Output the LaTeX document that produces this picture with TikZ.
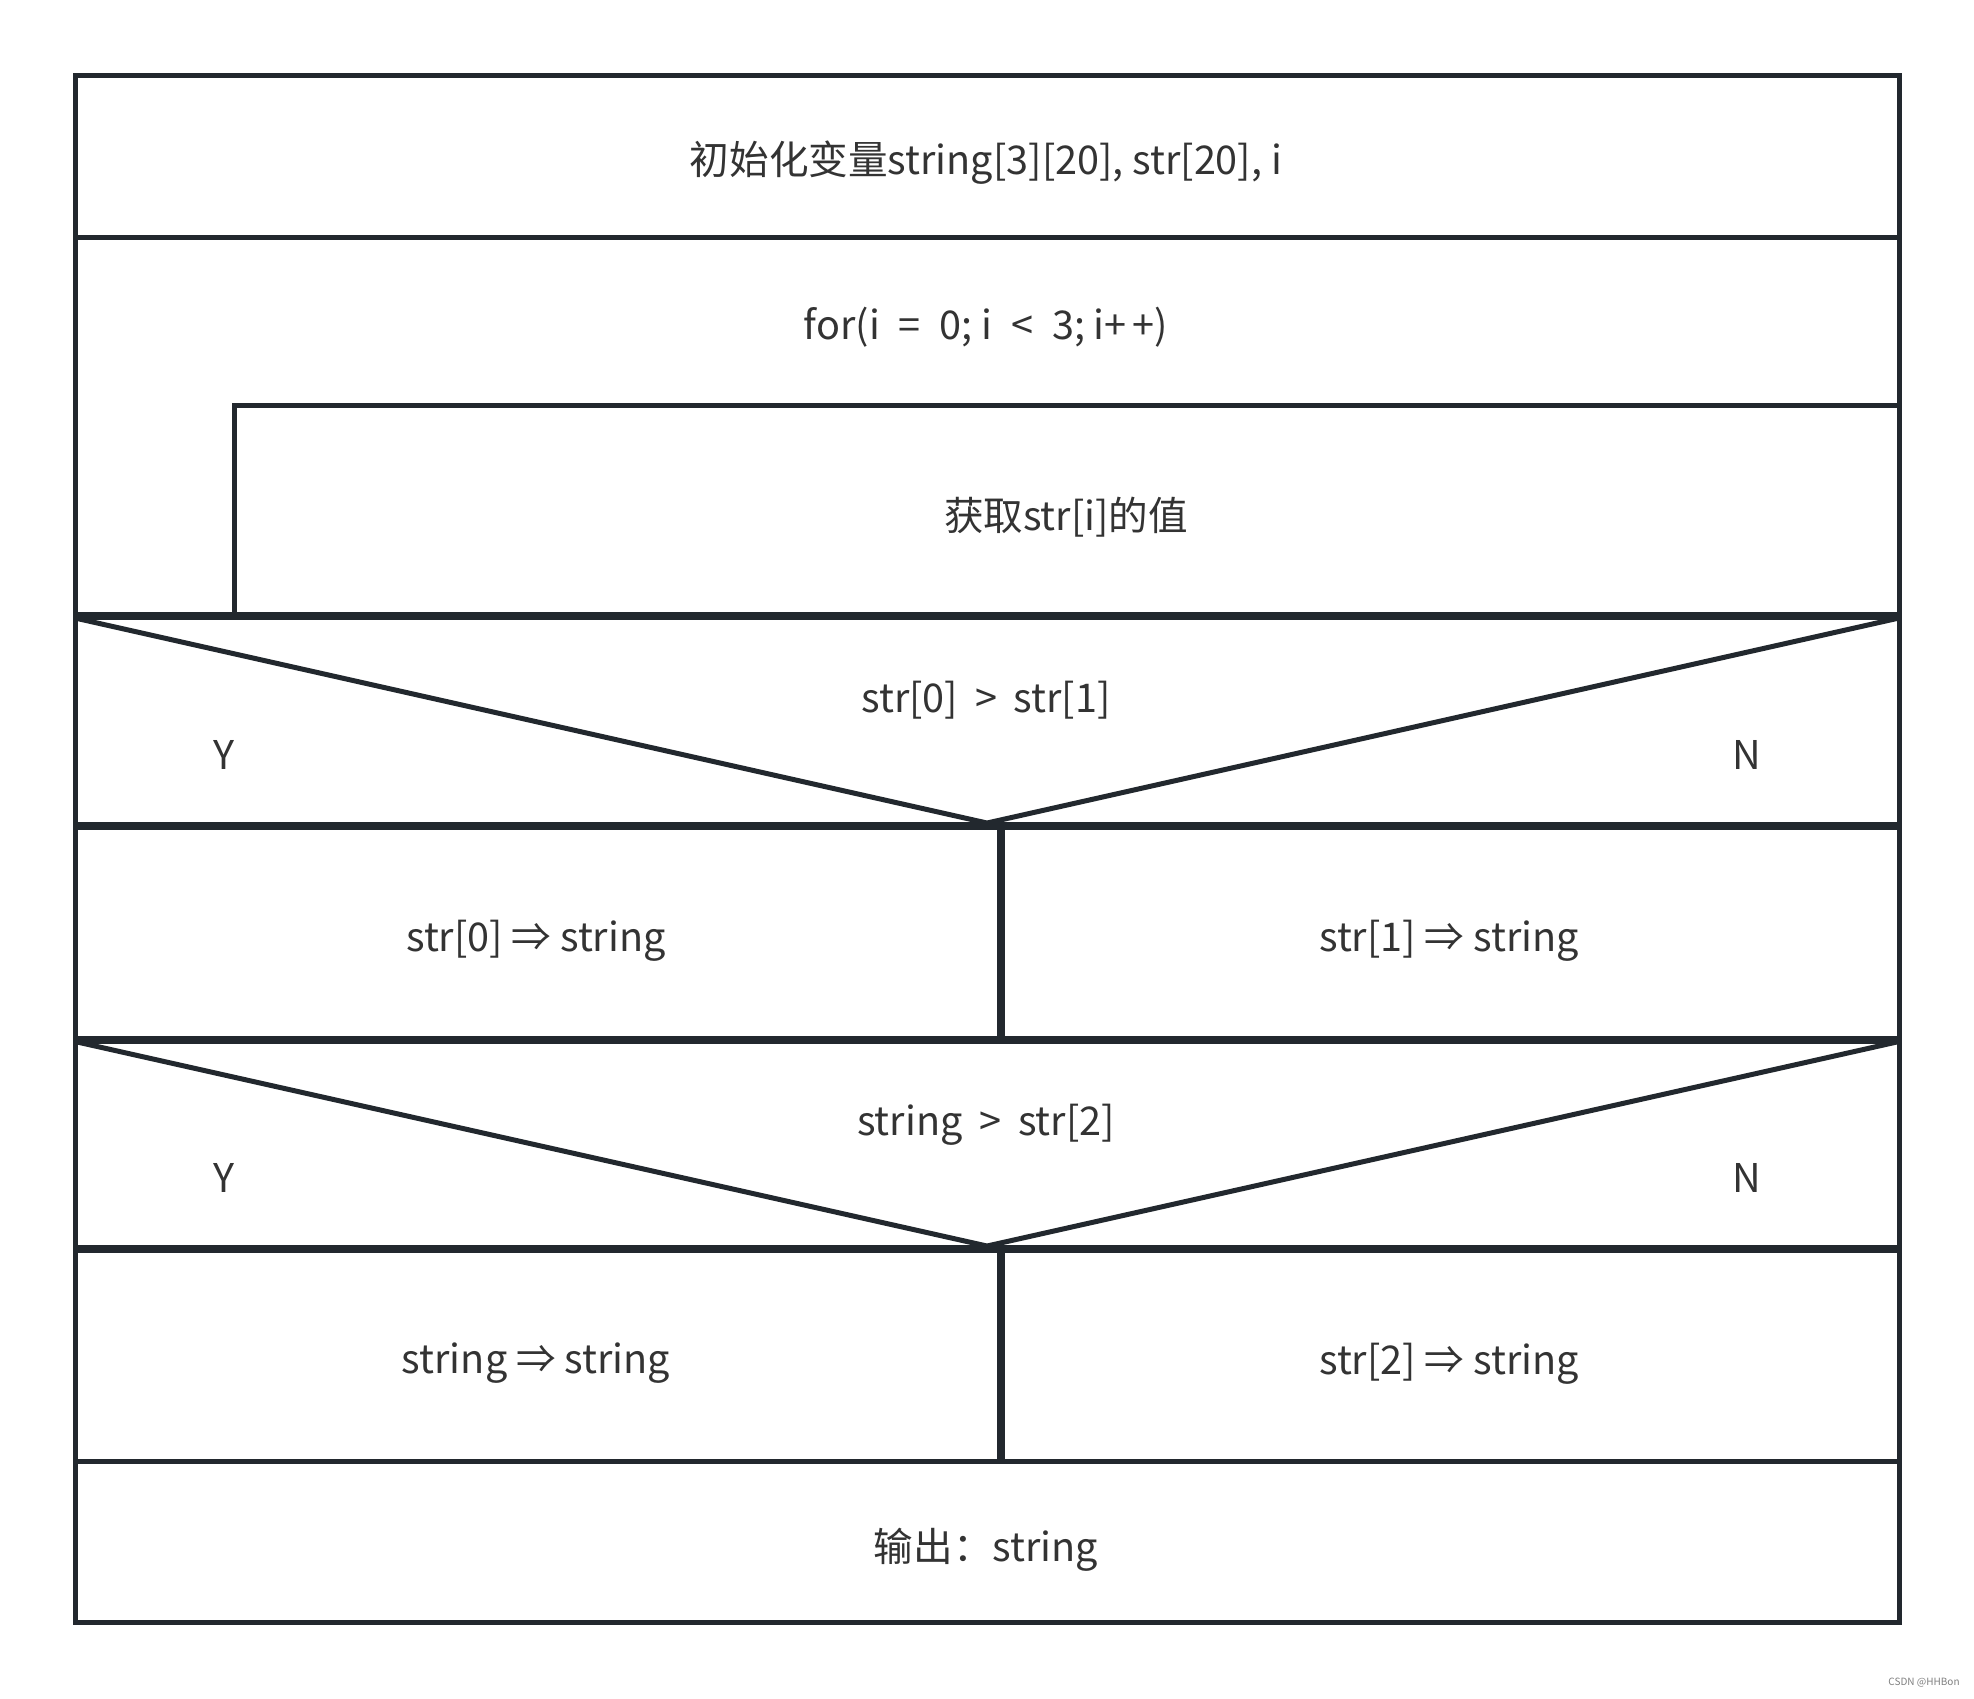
\documentclass[tikz,border=0pt]{standalone}
\usepackage{fontspec}
\setmainfont{Noto Sans CJK SC}
\definecolor{ln}{RGB}{34,40,46}
\definecolor{tx}{RGB}{51,51,51}
\newcommand{\gp}{\hspace{4pt}}
\begin{document}
\begin{tikzpicture}[x=0.5pt,y=-0.5pt,
  thin line/.style={draw=ln,line width=2.5pt},
  thick line/.style={draw=ln,line width=4pt},
  lbl/.style={text=tx,font=\fontsize{19.8pt}{23pt}\selectfont,inner sep=0pt,anchor=center}]
\useasboundingbox[fill=white] (0,0) rectangle (1974,1698);
% outer frame and thin separators
\draw[thin line] (75,75) rectangle (1899,1622.5);
\draw[thin line] (75,237) -- (1899,237);
\draw[thin line] (234,616) -- (234,405) -- (1899,405);
\draw[thin line] (75,1461) -- (1899,1461);
% thick separators
\draw[thick line] (75,616) -- (1899,616);
\draw[thick line] (75,826) -- (1899,826);
\draw[thick line] (75,1039.5) -- (1899,1039.5);
\draw[thick line] (75,1249) -- (1899,1249);
\draw[thick line] (1000.5,826) -- (1000.5,1039.5);
\draw[thick line] (1000.5,1249) -- (1000.5,1461);
% decision triangles
\draw[thin line,line join=miter] (75,618) -- (987,823) -- (1899,618);
\draw[thin line,line join=miter] (75,1041.5) -- (987,1246) -- (1899,1041.5);
% texts
\node[lbl] (init) at (986,162.5) {初始化变量string[3][20], str[20], i};
\node[lbl] (loop) at (986,327.5) {for(i\hspace{5pt} = \hspace{5pt}0; i\hspace{5pt} < \hspace{5pt}3; i+\hspace{3pt}+)};
\node[lbl] (get) at (1066,517.5) {获取str[i]的值};
\node[lbl] (c1) at (986,700) {str[0]\gp{} > \gp{}str[1]};
\node[lbl] (y1) at (224,755) {Y};
\node[lbl] (n1) at (1747,755) {N};
\node[lbl] (a1) at (536,941) {str[0] ⇒ string};
\node[lbl] (b1) at (1449,941) {str[1] ⇒ string};
\node[lbl] (c2) at (986,1124.5) {string\gp{} > \gp{}str[2]};
\node[lbl] (y2) at (224,1178) {Y};
\node[lbl] (n2) at (1747,1178) {N};
\node[lbl] (a2) at (536,1363.5) {string ⇒ string};
\node[lbl] (b2) at (1449,1363.5) {str[2] ⇒ string};
\node[lbl] (out) at (986,1550) {输出：string};
\node[text=gray,font=\fontsize{5pt}{6pt}\selectfont,anchor=east,inner sep=0pt] (wm) at (1960,1683) {CSDN @HHBon};
\end{tikzpicture}
\end{document}
